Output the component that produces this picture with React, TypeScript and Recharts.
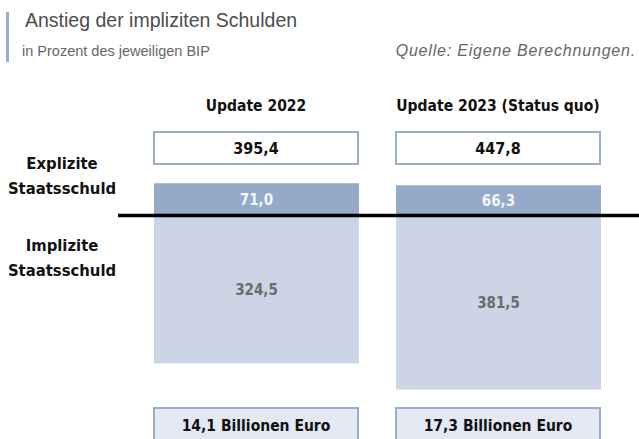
import React from 'react';
import { BarChart, Bar, XAxis, YAxis, ReferenceLine, LabelList } from 'recharts';

// categories and values, in % of GDP
const categories = ['Update 2022', 'Update 2023 (Status quo)'];
const explizit = [71.0, 66.3];
const implizit = [324.5, 381.5];
const gesamt = [395.4, 447.8];
const billionen = ['14,1 Billionen Euro', '17,3 Billionen Euro'];
const rowLabels = [
  { value: 90, lines: ['Explizite', 'Staatsschuld'] },
  { value: -90, lines: ['Implizite', 'Staatsschuld'] },
];

const data = categories.map((name, i) => ({
  name,
  explizit: explizit[i],
  implizit: -implizit[i],
}));

const fmt = (v: number) => Math.abs(v).toFixed(1).replace('.', ',');

const NARROW = "'Liberation Sans Narrow', 'DejaVu Sans Condensed', 'Arial Narrow', sans-serif";
const SANS = "'Liberation Sans', Arial, Helvetica, sans-serif";
const BORDER = '#9badcd';

const TopTick = (props: any) => {
  const { x, y, payload } = props;
  const i = categories.indexOf(payload.value);
  const w = 204;
  return (
    <g>
      <text x={x} y={y - 59} textAnchor="middle" fontFamily={NARROW} fontWeight="bold" fontSize={15.5} fill="#111">
        {payload.value}
      </text>
      <rect x={x - w / 2} y={y - 38} width={w} height={32} fill="#fff" stroke={BORDER} strokeWidth={2} />
      <text x={x} y={y - 16} textAnchor="middle" fontFamily={NARROW} fontWeight="bold" fontSize={16} fill="#111">
        {fmt(gesamt[i])}
      </text>
    </g>
  );
};

const BottomTick = (props: any) => {
  const { x, y, payload } = props;
  const i = categories.indexOf(payload.value);
  const w = 204;
  return (
    <g>
      <rect x={x - w / 2} y={y + 1} width={w} height={40} fill="#e3e8f2" stroke={BORDER} strokeWidth={2} />
      <text x={x} y={y + 24} textAnchor="middle" fontFamily={NARROW} fontWeight="bold" fontSize={15.5} fill="#111">
        {billionen[i]}
      </text>
    </g>
  );
};

const RowTick = (props: any) => {
  const { y, payload } = props;
  const row = rowLabels.find((r) => r.value === payload.value);
  if (!row) return null;
  return (
    <text x={62} y={y - 6} textAnchor="middle" fontFamily={NARROW} fontWeight="bold" fontSize={16.5} fill="#111">
      <tspan x={62} dy={0}>{row.lines[0]}</tspan>
      <tspan x={62} dy={25}>{row.lines[1]}</tspan>
    </text>
  );
};

const App = () => {
  return (
    <div style={{ position: 'absolute', left: 0, top: 0, width: 639, height: 439, background: '#fff', overflow: 'hidden' }}>
      <div style={{ position: 'absolute', left: 6, top: 12, width: 3, height: 50, background: '#9badcd' }} />
      <div style={{ position: 'absolute', left: 25, top: 9, fontFamily: SANS, fontSize: 19.5, color: '#4d4d4d', whiteSpace: 'nowrap' }}>
        Anstieg der impliziten Schulden
      </div>
      <div style={{ position: 'absolute', left: 22, top: 43, fontFamily: SANS, fontSize: 14.5, color: '#666', whiteSpace: 'nowrap' }}>
        in Prozent des jeweiligen BIP
      </div>
      <div style={{ position: 'absolute', right: 3, top: 42, fontFamily: SANS, fontSize: 16, letterSpacing: 0.8, fontStyle: 'italic', color: '#666', whiteSpace: 'nowrap' }}>
        Quelle: Eigene Berechnungen.
      </div>
      <div style={{ position: 'absolute', left: 0, top: 0 }}>
        <BarChart
          width={639}
          height={439}
          data={data}
          stackOffset="sign"
          margin={{ top: 0, right: 20, bottom: 0, left: 0 }}
        >
          <XAxis
            xAxisId="top"
            dataKey="name"
            orientation="top"
            height={170}
            axisLine={false}
            tickLine={false}
            tickSize={0}
            tickMargin={0}
            tick={<TopTick />}
            interval={0}
          />
          <XAxis
            xAxisId="bottom"
            dataKey="name"
            orientation="bottom"
            height={32}
            axisLine={false}
            tickLine={false}
            tickSize={0}
            tickMargin={0}
            tick={<BottomTick />}
            interval={0}
          />
          <YAxis
            type="number"
            domain={[-420, 100]}
            ticks={rowLabels.map((r) => r.value)}
            width={135}
            axisLine={false}
            tickLine={false}
            tick={<RowTick />}
            allowDataOverflow
          />
          <Bar dataKey="explizit" stackId="a" xAxisId="bottom" fill="#95a9c9" barSize={205} isAnimationActive={false}>
            <LabelList
              dataKey="explizit"
              position="center"
              formatter={(v: any) => fmt(Number(v))}
              fill="#f4f6fa"
              fontFamily={NARROW}
              fontWeight="bold"
              fontSize={15}
            />
          </Bar>
          <Bar dataKey="implizit" stackId="a" xAxisId="bottom" fill="#cbd5e6" barSize={205} isAnimationActive={false}>
            <LabelList
              dataKey="implizit"
              position="center"
              formatter={(v: any) => fmt(Number(v))}
              fill="#6b6b6b"
              fontFamily={NARROW}
              fontWeight="bold"
              fontSize={15}
            />
          </Bar>
          <ReferenceLine
            y={0}
            xAxisId="bottom"
            shape={(p: any) => (
              <line x1={p.x1 - 17} y1={p.y1} x2={p.x2 + 20} y2={p.y2} stroke="#000" strokeWidth={3.5} />
            )}
          />
        </BarChart>
      </div>
    </div>
  );
};

export default App;
